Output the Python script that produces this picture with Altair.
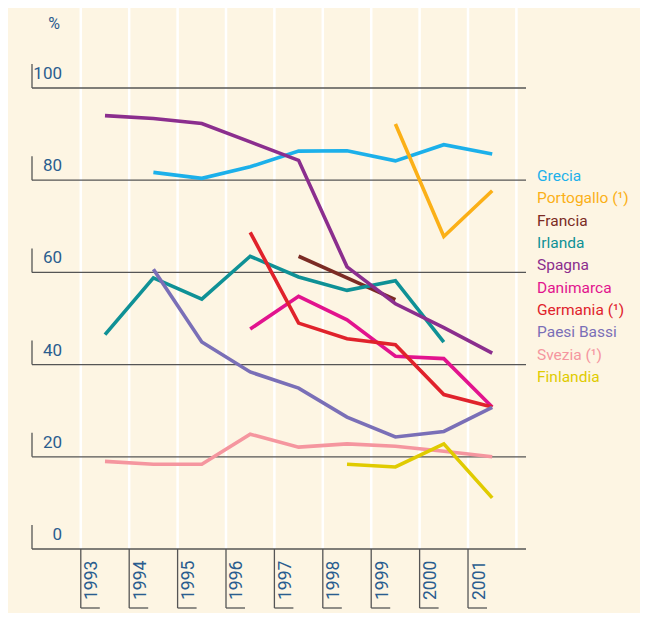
import altair as alt
import pandas as pd

years = [1993, 1994, 1995, 1996, 1997, 1998, 1999, 2000, 2001]
names = ["Grecia", "Portogallo (¹)", "Francia", "Irlanda", "Spagna",
         "Danimarca", "Germania (¹)", "Paesi Bassi", "Svezia (¹)", "Finlandia"]
colors = ["#1cb0ea", "#fbb017", "#7b2b24", "#0f9196", "#8b2e8e",
          "#e2138e", "#e0222b", "#7a6fb7", "#f5969f", "#e0cb00"]

grecia      = [None, 81.7, 80.4, 82.9, 86.3, 86.4, 84.2, 87.7, 85.7]
portogallo  = [None, None, None, None, None, None, 92.2, 67.8, 77.7]
francia     = [None, None, None, None, 63.5, 58.8, 54.1, None, None]
irlanda     = [46.5, 58.8, 54.2, 63.5, 59.0, 56.1, 58.2, 44.9, None]
spagna      = [94.0, 93.4, 92.3, 88.3, 84.3, 61.2, 53.2, 48.0, 42.5]
danimarca   = [None, None, None, 47.7, 54.8, 49.7, 41.8, 41.3, 30.8]
germania    = [None, None, None, 68.7, 49.0, 45.6, 44.3, 33.5, 30.8]
paesi_bassi = [None, 60.7, 44.9, 38.4, 34.9, 28.6, 24.3, 25.5, 30.7]
svezia      = [19.0, 18.4, 18.4, 24.9, 22.1, 22.8, 22.3, 21.2, 20.0]
finlandia   = [None, None, None, None, None, 18.4, 17.8, 22.8, 11.1]

y_ticks = [0, 20, 40, 60, 80, 100]

series = [grecia, portogallo, francia, irlanda, spagna,
          danimarca, germania, paesi_bassi, svezia, finlandia]

rows = []
for n, vals in zip(names, series):
    for yr, v in zip(years, vals):
        if v is not None:
            rows.append({"name": n, "year": yr, "value": v})
df = pd.DataFrame(rows)

bounds = pd.DataFrame({"b": [y - 0.5 for y in years] + [years[-1] + 0.5]})
ticks_df = pd.DataFrame({"b": [y - 0.5 for y in years], "label": [str(y) for y in years]})
yt_df = pd.DataFrame({"v": y_ticks, "label": [str(v) for v in y_ticks]})
leg_df = pd.DataFrame({"name": names})

W, H = 494, 461
xs = alt.Scale(domain=[1991.492, 2001.698], nice=False, zero=False)
ys = alt.Scale(domain=[0, 100], nice=False, zero=False)
cs = alt.Scale(domain=names, range=colors)
FONT = "Roboto"
TXT = "#2a5d8f"
DARK = "#555555"

white_v = alt.Chart(bounds).mark_rule(color="white", strokeWidth=2.5).encode(
    x=alt.X("b:Q", scale=xs, axis=None),
    y=alt.value(-82), y2=alt.value(H))

hlines = alt.Chart(yt_df).mark_rule(color=DARK, strokeWidth=1.3).encode(
    y=alt.Y("v:Q", scale=ys, axis=None),
    x=alt.value(0), x2=alt.value(W))

ytick_marks = alt.Chart(yt_df).mark_rule(color=DARK, strokeWidth=1.3, y2Offset=-24).encode(
    y=alt.Y("v:Q", scale=ys, axis=None), y2="v:Q", x=alt.value(0))

ylabels = alt.Chart(yt_df).mark_text(
    align="right", baseline="alphabetic", dy=-9, font=FONT, fontSize=17, color=TXT
).encode(y=alt.Y("v:Q", scale=ys, axis=None), x=alt.value(30), text="label:N")

pct = alt.Chart(pd.DataFrame({"t": ["%"]})).mark_text(
    font=FONT, fontSize=16, color=TXT, align="center", baseline="middle"
).encode(x=alt.value(22), y=alt.value(-64), text="t:N")

xtick_v = alt.Chart(ticks_df).mark_rule(color=DARK, strokeWidth=1.3).encode(
    x=alt.X("b:Q", scale=xs, axis=None), y=alt.value(H), y2=alt.value(520))
xtick_h = alt.Chart(ticks_df).mark_rule(color=DARK, strokeWidth=1.3, x2Offset=19).encode(
    x=alt.X("b:Q", scale=xs, axis=None), x2="b:Q", y=alt.value(520))
xlabels = alt.Chart(ticks_df).mark_text(
    angle=270, align="left", baseline="middle", xOffset=11.5,
    font=FONT, fontSize=17.5, color=TXT
).encode(x=alt.X("b:Q", scale=xs, axis=None), y=alt.value(512), text="label:N")

lines = alt.Chart(df).mark_line(strokeWidth=3.6).encode(
    x=alt.X("year:Q", scale=xs, axis=None),
    y=alt.Y("value:Q", scale=ys, axis=None),
    color=alt.Color("name:N", scale=cs, legend=None),
    detail="name:N",
    order="year:Q")

legend = alt.Chart(leg_df).mark_text(
    align="left", baseline="middle", font=FONT, fontSize=15.5
).encode(
    y=alt.Y("name:N", sort=names, scale=alt.Scale(domain=names, range=[88, 289], padding=0), axis=None),
    x=alt.value(505), text="name:N",
    color=alt.Color("name:N", scale=cs, legend=None))

chart = alt.layer(
    white_v, hlines, ytick_marks, ylabels, pct, xtick_v, xtick_h, xlabels, lines, legend
).resolve_scale(y="independent").properties(
    width=W, height=H,
    autosize=alt.AutoSizeParams(type="none"),
    padding={"left": 24, "top": 80, "right": 114, "bottom": 64},
    background="#fdf5e3"
).configure_view(stroke=None)

chart.save("out.html", embed_options={"renderer": "svg", "actions": False})
